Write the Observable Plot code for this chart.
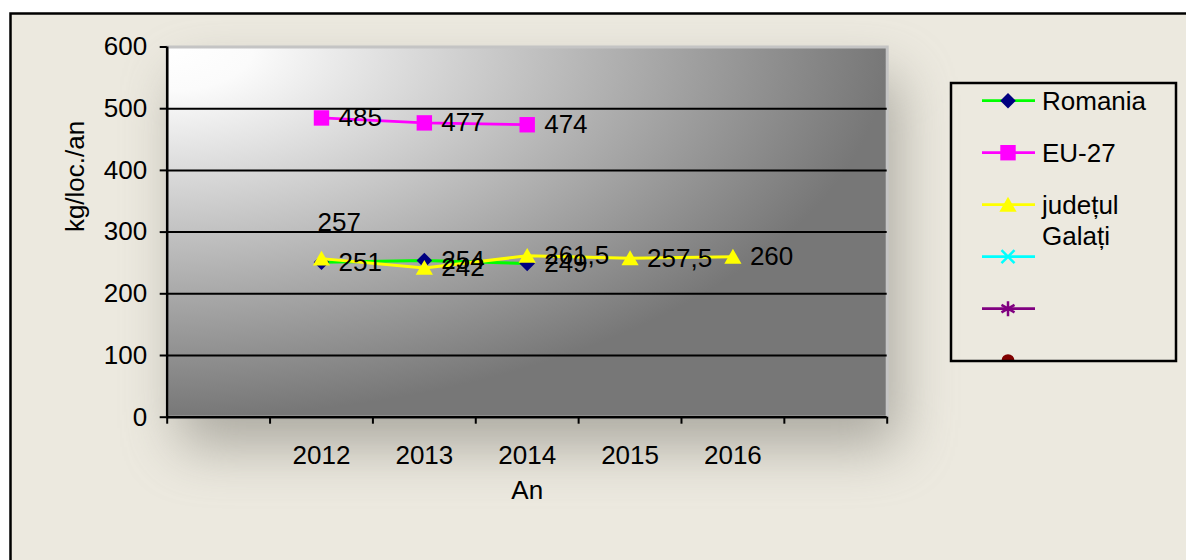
<!DOCTYPE html>
<html><head><meta charset="utf-8">
<script src="https://cdn.jsdelivr.net/npm/d3@7"></script>
<script src="https://cdn.jsdelivr.net/npm/@observablehq/plot@0.6"></script>
<style>
html,body{margin:0;padding:0;background:#fff;}
#chart{position:relative;width:1186px;height:560px;overflow:hidden;}
</style></head><body><div id="chart"></div>
<script>
// ---- data ----
const years = ["2012", "2013", "2014", "2015", "2016"];
const seriesNames = ["Romania", "EU-27", "județul Galați"];
const romania = [251, 254, 249, null, null];
const eu27 = [485, 477, 474, null, null];
const galati = [257, 242, 261.5, 257.5, 260];
const yTicks = [0, 100, 200, 300, 400, 500, 600];
const gridValues = [100, 200, 300, 400, 500];
const yTitle = "kg/loc./an";
const xTitle = "An";
const legendEntries = [
  {label: ["Romania"], line: "#00ff00", marker: "diamond", color: "#000080"},
  {label: ["EU-27"], line: "#ff00ff", marker: "square", color: "#ff00ff"},
  {label: ["județul", "Galați"], line: "#ffff00", marker: "triangle", color: "#ffff00"},
  {label: [], line: "#00ffff", marker: "times", color: "#00ffff"},
  {label: [], line: "#800080", marker: "asterisk", color: "#800080"},
  {label: [], line: null, marker: "circle", color: "#800000"}
];

const xSlots = years.length + 2; // one empty category slot on each side
const FONT = '"Liberation Sans", Arial, Helvetica, sans-serif';
const FS = 26;
const rows = [];
[romania, eu27, galati].forEach((vals, s) => vals.forEach((v, i) => {
  if (v != null) rows.push({series: seriesNames[s], year: years[i], pos: i + 1.5, value: v});
}));
const fmt = v => String(v).replace(".", ",");
const bySeries = name => rows.filter(r => r.series === name);
const isRaised = r => r.series === "județul Galați" && r.year === "2012";

const W = 1186, H = 560;
const mL = 166.7, mR = W - 886.7, mT = 46.5, mB = H - 416.7;

const chart = Plot.plot({
  width: W, height: H,
  marginLeft: mL, marginRight: mR, marginTop: mT, marginBottom: mB,
  style: {fontFamily: FONT, fontSize: FS + "px", background: "transparent", color: "#000"},
  x: {domain: [0, xSlots], axis: null, label: null},
  y: {domain: [0, 600], axis: null, label: null},
  marks: [
    Plot.frame({fill: "url(#plotGrad)", stroke: "#c4c4c4", strokeWidth: 3}),
    Plot.ruleY(gridValues, {stroke: "#000", strokeWidth: 2}),
    Plot.ruleX([0], {stroke: "#000", strokeWidth: 2.5}),
    Plot.ruleY([0], {stroke: "#000", strokeWidth: 2.5}),
    Plot.axisY({ticks: yTicks, label: null, tickSize: 7, tickPadding: 13, fontSize: FS, fill: "#000", stroke: "#000", strokeWidth: 2, tickFormat: d => String(d)}),
    Plot.axisX({ticks: d3.range(xSlots + 1), label: null, tickSize: 7, stroke: "#000", strokeWidth: 2, tickFormat: () => ""}),
    Plot.axisX({ticks: years.map((y, i) => i + 1.5), label: null, tickSize: 0, tickPadding: 28, fontSize: FS, fill: "#000", tickFormat: d => years[Math.round(d - 1.5)]}),
    Plot.text([yTitle], {frameAnchor: "left", rotate: -90, dx: -91.7, fontSize: FS, fill: "#000", text: d => d}),
    Plot.text([xTitle], {frameAnchor: "bottom", dy: 82, fontSize: FS, fill: "#000", text: d => d}),
    Plot.line(bySeries("Romania"), {x: "pos", y: "value", stroke: "#00ff00", strokeWidth: 3}),
    Plot.dot(bySeries("Romania"), {x: "pos", y: "value", symbol: "diamond2", r: 7, fill: "#000080", stroke: "none"}),
    Plot.line(bySeries("EU-27"), {x: "pos", y: "value", stroke: "#ff00ff", strokeWidth: 2.75}),
    Plot.dot(bySeries("EU-27"), {x: "pos", y: "value", symbol: "square", r: 8.7, fill: "#ff00ff", stroke: "none"}),
    Plot.line(bySeries("județul Galați"), {x: "pos", y: "value", stroke: "#ffff00", strokeWidth: 3}),
    Plot.dot(bySeries("județul Galați"), {x: "pos", y: "value", symbol: "triangle", r: 6.4, dy: 2, fill: "#ffff00", stroke: "none"}),
    Plot.text(rows.filter(r => !isRaised(r)), {x: "pos", y: "value", text: d => fmt(d.value), textAnchor: "start", dx: 17, fontSize: FS, fill: "#000"}),
    Plot.text(rows.filter(isRaised), {x: "pos", y: "value", text: d => fmt(d.value), textAnchor: "start", dx: -4, dy: -36, fontSize: FS, fill: "#000"})
  ]
});

// ---- decoration: gradients, outer background, shadow, legend ----
const svg = d3.select(chart);
const ns = "http://www.w3.org/2000/svg";
const defs = svg.insert("defs", ":first-child");
const grad = defs.append("radialGradient").attr("id", "plotGrad")
  .attr("cx", 0).attr("cy", 0).attr("fx", 0).attr("fy", 0).attr("r", 1);
grad.append("stop").attr("offset", 0).attr("stop-color", "#ffffff");
grad.append("stop").attr("offset", 0.12).attr("stop-color", "#fbfbfb");
grad.append("stop").attr("offset", 1).attr("stop-color", "#777777");
const filt = defs.append("filter").attr("id", "shadowBlur")
  .attr("x", "-50%").attr("y", "-50%").attr("width", "200%").attr("height", "200%");
filt.append("feGaussianBlur").attr("stdDeviation", 28);
defs.append("clipPath").attr("id", "legClip").append("rect")
  .attr("x", 951).attr("y", 83).attr("width", 225).attr("height", 278);

const bgNode = document.createElementNS(ns, "g");
chart.insertBefore(bgNode, defs.node().nextSibling);
const bg = d3.select(bgNode);
bg.append("rect").attr("x", 10.5).attr("y", 13.5).attr("width", 1300).attr("height", 700)
  .attr("fill", "#ece9df").attr("stroke", "#000").attr("stroke-width", 2.5);
bg.append("rect").attr("x", mL + 12).attr("y", mT + 30).attr("width", W - mL - mR).attr("height", H - mT - mB)
  .attr("fill", "#8a8880").attr("opacity", 0.65).attr("filter", "url(#shadowBlur)");

const leg = svg.append("g").attr("font-family", FONT).attr("font-size", FS).attr("text-anchor", "start");
const legItems = leg.append("g").attr("clip-path", "url(#legClip)");
legendEntries.forEach((e, i) => {
  const cy = 100.7 + i * 52;
  const g = legItems.append("g");
  if (e.line) g.append("line").attr("x1", 982).attr("x2", 1035).attr("y1", cy).attr("y2", cy)
    .attr("stroke", e.line).attr("stroke-width", 2.75);
  const mx = 1008;
  if (e.marker === "diamond") {
    g.append("path").attr("d", d3.symbol(d3.symbolDiamond2, Math.PI * 7 * 7)()).attr("transform", `translate(${mx},${cy})`).attr("fill", e.color);
  } else if (e.marker === "square") {
    g.append("path").attr("d", d3.symbol(d3.symbolSquare, Math.PI * 8.7 * 8.7)()).attr("transform", `translate(${mx},${cy})`).attr("fill", e.color);
  } else if (e.marker === "triangle") {
    g.append("path").attr("d", d3.symbol(d3.symbolTriangle, Math.PI * 6.4 * 6.4)()).attr("transform", `translate(${mx},${cy + 2})`).attr("fill", e.color);
  } else if (e.marker === "times") {
    const s = 6.5;
    g.append("path").attr("d", `M${mx - s},${cy - s}L${mx + s},${cy + s}M${mx - s},${cy + s}L${mx + s},${cy - s}`)
      .attr("stroke", e.color).attr("stroke-width", 2.5);
  } else if (e.marker === "asterisk") {
    const s = 7.5, a = s * 0.87, b = s * 0.5;
    g.append("path").attr("d", `M${mx},${cy - s}L${mx},${cy + s}M${mx - a},${cy - b}L${mx + a},${cy + b}M${mx - a},${cy + b}L${mx + a},${cy - b}`)
      .attr("stroke", e.color).attr("stroke-width", 2.5);
  } else if (e.marker === "circle") {
    g.append("circle").attr("cx", mx).attr("cy", cy).attr("r", 6.5).attr("fill", e.color);
  }
  e.label.forEach((t, j) => {
    g.append("text").attr("x", 1042).attr("y", cy + j * 31).attr("dy", "0.35em")
      .attr("text-anchor", "start").attr("fill", "#000").text(t);
  });
});
leg.append("rect").attr("x", 951).attr("y", 83).attr("width", 225).attr("height", 278)
  .attr("fill", "none").attr("stroke", "#000").attr("stroke-width", 2.5);

document.getElementById("chart").appendChild(chart);
</script></body></html>
